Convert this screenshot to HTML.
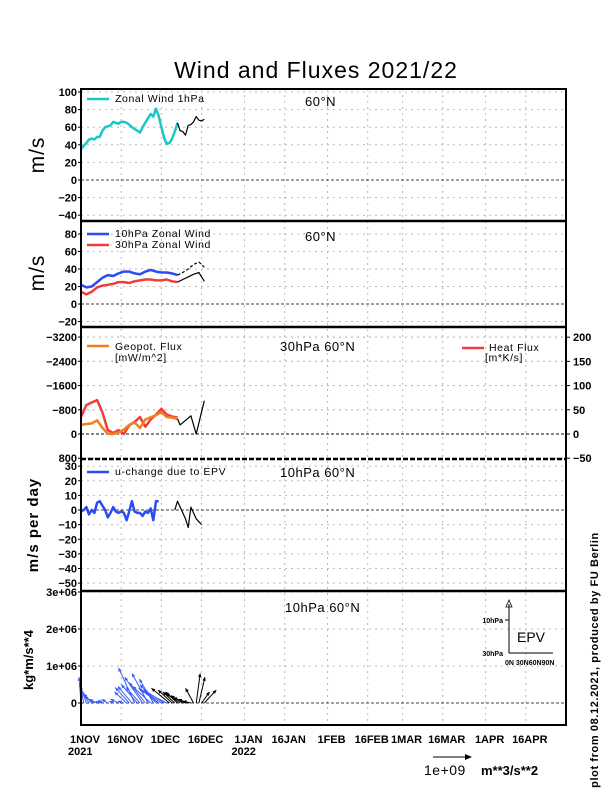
<!DOCTYPE html>
<html><head><meta charset="utf-8"><style>
body{margin:0;background:#fff}
svg{display:block;font-family:"Liberation Sans",sans-serif}
.tk{font-size:11px;font-weight:bold;fill:#000}
.lg{font-size:10.5px;fill:#000;letter-spacing:0.6px}
.hd{font-size:13px;fill:#000;letter-spacing:0.5px}
</style></head><body>
<svg id="c" width="612" height="792" viewBox="0 0 612 792">
<text x="316" y="78" text-anchor="middle" font-size="23" letter-spacing="1">Wind and Fluxes 2021/22</text>
<g id="grid"></g><g id="marks"></g><g id="axes"></g>
</svg>
<script>
// ---- data ----
const dateDays=[0,15,30,45,61,76,92,107,120,135,151,166];
const dateLabels=["1NOV","16NOV","1DEC","16DEC","1JAN","16JAN","1FEB","16FEB","1MAR","16MAR","1APR","16APR"];
const yearLabels=["2021","","","","2022","","","","","","",""];
const u1Days=[0,1,2,3,4,5,6,7,8,9,10,11,12,13,14,15,16,17,18,19,20,21,22,23,24,25,26,27,28,29,30,31,32,33,34,35,36];
const u1=[35,39,42,46,47,46,49,49,56,60,61,62,66,65,64,66,66,65,63,60,58,56,54,60,65,70,75,72,81,73,60,48,41,42,47,55,65];
const u1FcDays=[36,37,38,39,40,41,42,43,44,45,46];
const u1Fc=[65,56,55,51,62,63,66,72,68,67,69];
const u10Days=[0,2,4,6,8,10,12,14,16,18,20,22,24,26,28,30,32,34,36];
const u10=[22,19,20,25,30,33,32,35,37,37,35,34,37,39,37,36,36,35,33];
const u30=[14,11,14,19,21,22,23,25,25,24,26,27,28,28,27,27,28,26,25];
const u10FcDays=[36,38,40,42,44,46];
const u10Fc=[33,36,40,45,48,42];
const u30FcDays=[36,38,40,42,44,46];
const u30Fc=[25,28,31,34,36,26];
const fluxDays=[0,2,4,6,8,10,12,14,16,18,20,22,24,26,28,30,32,34,36];
const geopot=[-300,-330,-350,-450,-200,-10,0,-50,-150,-300,-380,-200,-480,-550,-620,-720,-560,-540,-500];
const heat=[35,60,65,70,45,8,2,8,0,18,25,35,15,30,40,52,40,36,34];
const fluxFcDays=[36,37,39,41,43,46];
const fluxFc=[-500,-300,-450,-600,0,-1100];
const epvDays=[0,1,2,3,4,5,6,7,8,9,10,11,12,13,14,15,16,17,18,19,20,21,22,23,24,25,26,27,28,29];
const epvDaily=[-1,0,2,-3,0,-2,5,6,3,0,-5,-2,2,-1,-2,-1,-2,-7,-1,6,-1,-2,-2,-4,-1,-2,1,-7,6,6];
const epvFcDays=[35,36,38,39,40,41,43,45];
const epvFc=[0,6,-2,-6,-12,2,-6,-10];
const arrowDays=[0,1,2,3,4,5,6,7,8,10,12,14,16,17,18,19,20,21,22,23,24,25,26,27,28,29,30,31,32];
const arrowFy=[0.7,0.55,0.45,0.35,0.25,0.18,0.1,0.05,0.08,0.1,0.05,0.1,0.05,0.3,0.42,0.45,0.95,0.5,0.42,0.7,0.55,0.8,0.45,0.65,0.5,0.4,0.35,0.35,0.3];
const arrowFx=[-0.05,-0.1,-0.15,-0.2,-0.2,-0.25,-0.2,-0.1,-0.1,-0.15,-0.1,-0.2,-0.15,-0.3,-0.35,-0.35,-0.4,-0.4,-0.35,-0.45,-0.4,-0.4,-0.45,-0.35,-0.4,-0.5,-0.5,-0.5,-0.55];
const fcArrowDays=[33,34,35,36,37,38,39,40,41,42,43,44,45,46];
const fcArrowFy=[0.4,0.35,0.3,0.3,0.25,0.2,0.15,0.1,0.05,0.4,0.8,0.7,0.3,0.35];
const fcArrowFx=[-0.45,-0.35,-0.3,-0.3,-0.35,-0.3,-0.3,-0.25,-0.2,-0.2,0.1,0.15,0.2,0.3];
const p1Ticks=[100,80,60,40,20,0,-20,-40];
const p2Ticks=[80,60,40,20,0,-20];
const p3Ticks=[-3200,-2400,-1600,-800,0,800];
const p3RTicks=[200,150,100,50,0,-50];
const p4Ticks=[30,20,10,0,-10,-20,-30,-40,-50];
const p5Ticks=[3e6,2e6,1e6,0];
const p5Labels=["3e+06","2e+06","1e+06","0"];
// ---- scales ----
const X0=81,X1=566,PXD=485/181;
const x=d=>X0+d*PXD;
const y1=v=>180-v*0.88;
const y2=v=>304-v*0.875;
const y3=v=>434+v*0.0303;
const y3r=v=>434-v*0.484;
const y4=v=>510-v*1.4625;
const y5=v=>703-v*37e-6;
const NS="http://www.w3.org/2000/svg";
const G=document.getElementById('grid'),M=document.getElementById('marks'),A=document.getElementById('axes');
function mk(t,a,p){const e=document.createElementNS(NS,t);for(const k in a)e.setAttribute(k,a[k]);p.appendChild(e);return e;}
function line(xs,ys,fx,fy,col,w,dash,p){
  const pts=xs.map((d,i)=>fx(d).toFixed(1)+','+fy(ys[i]).toFixed(1)).join(' ');
  const e=mk('polyline',{points:pts,fill:'none',stroke:col,'stroke-width':w,'stroke-linejoin':'round'},p);
  if(dash)e.setAttribute('stroke-dasharray',dash);
  return e;}
// vertical grid
dateDays.forEach((d,i)=>{
  const g=mk('line',{x1:x(d),x2:x(d),y1:89,y2:725,stroke:'#bbb','stroke-dasharray':'2,4'},G);
  
  
  const t=mk('text',{x:x(d)+4,y:743,'text-anchor':'middle',class:'tk'},A);t.textContent=dateLabels[i];
  
  
  if(yearLabels[i]){const t2=mk('text',{x:x(d)-13,y:755,class:'tk'},A);t2.textContent=yearLabels[i];
  
  }
});
function yaxis(ticks,fy,labels,right){
  ticks.forEach((v,i)=>{
    const yy=fy(v);
    if(v===0){mk('line',{x1:X0,x2:X1,y1:yy,y2:yy,stroke:'#000','stroke-dasharray':'3,2','stroke-width':0.8},G);}
    else mk('line',{x1:X0,x2:X1,y1:yy,y2:yy,stroke:'#bbb','stroke-dasharray':'2,4'},G);
    const t=mk('text',{x:right?X1+7:X0-4,y:yy+4,'text-anchor':right?'start':'end',class:'tk'},A);
    t.textContent=labels?labels[i]:(v<0?'\u2212'+(-v):v);
    
    
    mk('line',{x1:right?X1:X0,x2:right?X1+4:X0-3,y1:yy,y2:yy,stroke:'#000'},A);
  });}
yaxis(p1Ticks,y1);yaxis(p2Ticks,y2);yaxis(p3Ticks,y3);yaxis(p3RTicks,y3r,null,true);yaxis(p4Ticks,y4);yaxis(p5Ticks,y5,p5Labels);
// frame
mk('rect',{x:X0,y:89,width:X1-X0,height:636,fill:'none',stroke:'#000','stroke-width':2},A);
[221,327,591].forEach(yy=>mk('line',{x1:X0,x2:X1,y1:yy,y2:yy,stroke:'#000','stroke-width':2.5},A));
mk('line',{x1:X0,x2:X1,y1:459,y2:459,stroke:'#000','stroke-width':2.5,'stroke-dasharray':'5,2'},A);
// series
let s;
s=line(u1Days,u1,x,y1,'#1cc7c7',2.5,null,M);


s=line(u1FcDays,u1Fc,x,y1,'#000',1.2,null,M);


s=line(u10Days,u10,x,y2,'#2b4cf2',2.5,null,M);


s=line(u10Days,u30,x,y2,'#f23c3c',2.5,null,M);


s=line(u10FcDays,u10Fc,x,y2,'#000',1.2,'3,2',M);


s=line(u30FcDays,u30Fc,x,y2,'#000',1.2,null,M);


s=line(fluxDays,heat,x,y3r,'#f23c3c',2.5,null,M);


s=line(fluxDays,geopot,x,y3,'#f0801c',2.5,null,M);


s=line(fluxFcDays,fluxFc,x,y3,'#000',1.2,null,M);


s=line(epvDays,epvDaily,x,y4,'#2b4cf2',2.5,null,M);


s=line(epvFcDays,epvFc,x,y4,'#000',1.2,null,M);


// EPV arrows
function arrow(d,fx,fy,col){
  const x0=x(d),yb=y5(0),x1=x0+fx*40,yy=y5(fy*1e6);
  const g=mk('g',{},M);
  
  
  mk('line',{x1:x0,y1:yb,x2:x1,y2:yy,stroke:col,'stroke-width':1},g);
  const a=Math.atan2(yy-yb,x1-x0),L=4;
  const p=[[x1,yy],[x1-L*Math.cos(a-0.45),yy-L*Math.sin(a-0.45)],[x1-L*Math.cos(a+0.45),yy-L*Math.sin(a+0.45)]];
  mk('polygon',{points:p.map(q=>q.join(',')).join(' '),fill:col},g);
}
arrowDays.forEach((d,i)=>arrow(d,arrowFx[i],arrowFy[i],'#3b5cf5'));
fcArrowDays.forEach((d,i)=>arrow(d,fcArrowFx[i],fcArrowFy[i],'#000'));
</script>
<svg style="position:absolute;left:0;top:0" width="612" height="792" font-family="Liberation Sans, sans-serif">
<g><line x1="87" y1="99" x2="109" y2="99" stroke="#1cc7c7" stroke-width="2.5"/><text x="115" y="102" class="lg">Zonal Wind 1hPa</text></g>
<text x="305" y="106" class="hd">60°N</text>
<g><line x1="87" y1="234" x2="109" y2="234" stroke="#2b4cf2" stroke-width="2.5"/><text x="115" y="237" class="lg">10hPa Zonal Wind</text>
<line x1="87" y1="245" x2="109" y2="245" stroke="#f23c3c" stroke-width="2.5"/><text x="115" y="248" class="lg">30hPa Zonal Wind</text></g>
<text x="305" y="241" class="hd">60°N</text>
<g><line x1="87" y1="346" x2="109" y2="346" stroke="#f0801c" stroke-width="2.5"/><text x="115" y="350" class="lg">Geopot. Flux</text><text x="115" y="361" class="lg">[mW/m^2]</text></g>
<g><line x1="462" y1="348" x2="484" y2="348" stroke="#f23c3c" stroke-width="2.5"/><text x="489" y="351" class="lg">Heat Flux</text><text x="485" y="361" class="lg">[m*K/s]</text></g>
<text x="280" y="351" class="hd">30hPa 60°N</text>
<g><line x1="87" y1="472" x2="109" y2="472" stroke="#2b4cf2" stroke-width="2.5"/><text x="115" y="475" class="lg">u-change due to EPV</text></g>
<text x="280" y="477" class="hd">10hPa 60°N</text>
<text x="285" y="612" class="hd">10hPa 60°N</text>
<g>
<line x1="509" y1="653" x2="509" y2="604" stroke="#000"/><polygon points="509,600 506,607 512,607" fill="none" stroke="#000" stroke-width="0.8"/>
<line x1="509" y1="653" x2="553" y2="653" stroke="#000"/>
<line x1="505" y1="620" x2="509" y2="620" stroke="#000"/>
<text x="503" y="623" font-size="7" text-anchor="end" font-weight="bold">10hPa</text>
<text x="503" y="656" font-size="7" text-anchor="end" font-weight="bold">30hPa</text>
<text x="505" y="665" font-size="7" font-weight="bold">0N 30N60N90N</text>
<text x="517" y="642" font-size="14">EPV</text></g>
<text x="44" y="155" font-size="21" text-anchor="middle" transform="rotate(-90 44 155)" letter-spacing="1">m/s</text>
<text x="44" y="273" font-size="21" text-anchor="middle" transform="rotate(-90 44 273)" letter-spacing="1">m/s</text>
<text x="38" y="525" font-size="15" font-weight="bold" text-anchor="middle" transform="rotate(-90 38 525)" letter-spacing="1">m/s per day</text>
<text x="33" y="660" font-size="13" font-weight="bold" text-anchor="middle" transform="rotate(-90 33 660)">kg*m/s**4</text>
<g><line x1="433" y1="757" x2="468" y2="757" stroke="#000"/><polygon points="472,757 465,754 465,760" fill="#000"/>
<text x="424" y="775" font-size="14" letter-spacing="0.5">1e+09</text><text x="481" y="775" font-size="13" font-weight="bold">m**3/s**2</text></g>
<text x="598" y="660" font-size="11" font-weight="bold" text-anchor="middle" transform="rotate(-90 598 660)" letter-spacing="0.6">plot from 08.12.2021, produced by FU Berlin</text>
</svg>
</body></html>
